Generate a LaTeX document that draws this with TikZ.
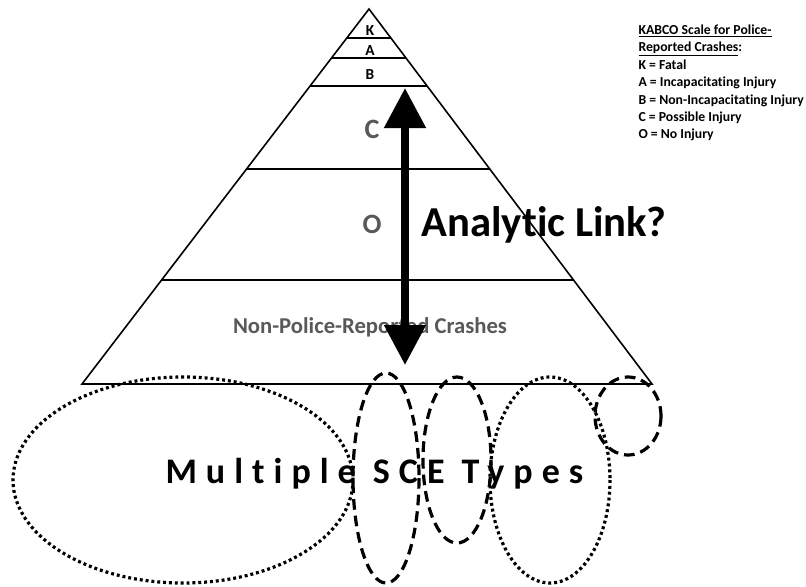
\documentclass[tikz,border=0pt]{standalone}
\usepackage{fontspec}
\setmainfont{Carlito}[Ligatures={NoCommon}]
\usetikzlibrary{arrows.meta,calc}

\definecolor{txtgray}{RGB}{89,89,89}
\tikzset{every picture/.style={line width=0.75pt}}
\tikzset{
  dotring/.style={line width=2.4pt, dash pattern=on 2.2pt off 2.2pt},
  dashring/.style={line width=2.4pt, dash pattern=on 8pt off 4.5pt},
  grade/.style={inner sep=0pt, font=\bfseries\fontsize{11.5}{13}\selectfont},
  graylbl/.style={inner sep=0pt, text=txtgray, font=\bfseries\fontsize{17}{20}\selectfont},
}

\begin{document}
\begin{tikzpicture}[x=0.75pt,y=0.75pt,yscale=-1,xscale=1]
\useasboundingbox (0,0) rectangle (806,586);

%Shape: Triangle [id:pyramid]
\coordinate (apex) at (369,9);
\coordinate (baseL) at (82,384);
\coordinate (baseR) at (652,384);
\draw [line width=1.2pt] (apex) -- (baseL) -- (baseR) -- cycle ;

%Straight Lines [id:levels]
\foreach \t/\nm in {0.0773/K, 0.1307/A, 0.2053/B, 0.4267/C, 0.7227/O}{
  \coordinate (l\nm) at ($(apex)!\t!(baseL)$);
  \coordinate (r\nm) at ($(apex)!\t!(baseR)$);
  \draw [line width=1.2pt] (l\nm) -- (r\nm) ;
}

% Text Node
\node [grade, anchor=base] (gradeK) at (370,35) {K};
% Text Node
\node [grade, anchor=base] (gradeA) at (370,55) {A};
% Text Node
\node [grade, anchor=base] (gradeB) at (370,79) {B};
% Text Node
\node [graylbl, anchor=base, font=\bfseries\fontsize{21}{24}\selectfont] (gradeC) at (372,138) {C};
% Text Node
\node [graylbl, anchor=base, font=\bfseries\fontsize{21}{24}\selectfont] (gradeO) at (372,233) {O};
% Text Node
\node [graylbl, anchor=base] (nonpolice) at (370,333) {Non-Police-Reported Crashes};

%Straight Lines [id:link]
\coordinate (linkTop) at (405,88);
\coordinate (linkBot) at (405,365);
\draw [line width=6pt, {Triangle[length=30pt,width=30pt]}-{Triangle[length=30pt,width=30pt]}] (linkTop) -- (linkBot) ;

% Text Node
\node [inner sep=0pt, anchor=base west, font=\bfseries\fontsize{32}{36}\selectfont] (linkq) at (421,236) {Analytic Link?};

% Text Node
\node [inner sep=0pt, anchor=north west, align=left, font=\bfseries\fontsize{10.3}{13.1}\selectfont] (legend) at (638,24) {\underline{KABCO Scale for Police-}\\\underline{Reported Crashes}:\\K = Fatal\\A = Incapacitating Injury\\B = Non-Incapacitating Injury\\C = Possible Injury\\O = No Injury};

% Text Node
\node [inner sep=0pt, anchor=base west, font=\bfseries\fontsize{27}{30}\selectfont\addfontfeature{LetterSpace=25}] (sce) at (165,483) {Multiple SCE Types};

%Shape: Ellipse [id:sceA]
\draw [dotring] (183,480) ellipse [x radius=170, y radius=103] ;
%Shape: Ellipse [id:sceB]
\draw [dashring] (386,478) ellipse [x radius=33, y radius=105] ;
%Shape: Ellipse [id:sceC]
\draw [dashring] (457,460) ellipse [x radius=34, y radius=83] ;
%Shape: Ellipse [id:sceD]
\draw [dotring] (550,480) ellipse [x radius=60, y radius=103] ;
%Shape: Ellipse [id:sceE]
\draw [dashring] (628,416) ellipse [x radius=33, y radius=39] ;

\end{tikzpicture}
\end{document}
